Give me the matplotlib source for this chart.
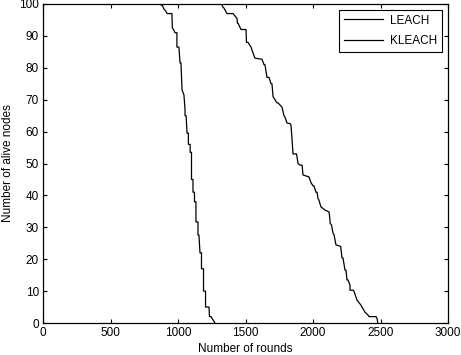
import numpy as np
import matplotlib
matplotlib.use('Agg')
import matplotlib.pyplot as plt

plt.rcParams['font.family'] = ['Liberation Sans', 'DejaVu Sans']

# LEACH: rounds vs alive nodes
leach_rounds = [0, 865, 875, 885, 895, 905, 920, 955, 958, 967, 978, 992, 992, 1007,
                1015, 1022, 1030, 1044, 1052, 1052, 1060, 1067, 1077, 1077, 1090, 1090,
                1100, 1100, 1111, 1111, 1122, 1122, 1133, 1133, 1148, 1148, 1155, 1163,
                1174, 1174, 1189, 1189, 1204, 1204, 1230, 1233, 1245, 1259, 1274]
leach_alive = [100, 100, 99.7, 99.5, 98.5, 98, 97, 97, 92.5, 92, 91, 91, 86.5, 86.5,
               81.5, 81.5, 73, 71.5, 67, 65, 65, 59.5, 59.5, 56, 56, 53.5,
               53.5, 45, 45, 41, 41, 38, 38, 31.7, 31.7, 27.6, 27.6, 22,
               22, 17, 17, 10, 10, 5, 5, 2, 2, 1, 0]

# KLEACH
kleach_rounds = [0, 1323, 1333, 1341, 1356, 1363, 1407, 1437, 1440, 1444, 1467, 1504,
                 1507, 1518, 1541, 1556, 1570, 1622, 1637, 1644, 1659, 1674, 1689, 1696,
                 1704, 1711, 1733, 1741, 1770, 1785, 1793, 1807, 1830, 1837, 1844, 1852,
                 1878, 1889, 1904, 1919, 1926, 1970, 1985, 2000, 2007, 2022, 2030, 2037,
                 2044, 2059, 2089, 2119, 2126, 2126, 2137, 2148, 2156, 2170, 2205, 2215,
                 2222, 2237, 2244, 2252, 2259, 2274, 2274, 2296, 2303, 2326, 2355, 2363,
                 2385, 2407, 2415, 2467, 2474, 2480]
kleach_alive = [100, 100, 99, 98.7, 97.5, 97, 97, 95.5, 94, 94, 92, 92,
                88, 88, 86.5, 84.6, 83, 82.7, 81, 81, 77, 77, 75, 75,
                71, 70.5, 69, 69, 67.7, 65, 64.5, 62.7, 62.5, 62, 58, 53,
                53, 50, 49.5, 49.5, 46.4, 45.8, 44, 43, 43, 41, 41, 39,
                38.5, 36.4, 35.4, 34.8, 32.3, 31.3, 30.7, 28.2, 27.6, 24.5, 24, 20.4,
                20.4, 16.6, 16.6, 13.5, 13.5, 11.9, 10.3, 10.3, 10, 7.2, 5.6, 5,
                3.4, 2.5, 2, 2, 1.5, 0]

xticks = np.arange(0, 3001, 500)
yticks = np.arange(0, 101, 10)

fig = plt.figure(figsize=(4.61, 3.55), dpi=100)
ax = fig.add_axes([43 / 461, 32 / 355, 405 / 461, 319 / 355])

ax.plot(leach_rounds, leach_alive, color='k', linewidth=0.9, label='LEACH')
ax.plot(kleach_rounds, kleach_alive, color='k', linewidth=0.9, label='KLEACH')

ax.set_xlim(0, 3000)
ax.set_ylim(0, 100)
ax.set_xticks(xticks)
ax.set_yticks(yticks)
ax.tick_params(direction='in', top=True, right=True, length=3, width=0.8,
               labelsize=8.5, pad=3)
for s in ax.spines.values():
    s.set_linewidth(0.9)

ax.set_xlabel('Number of rounds', fontsize=8.5, labelpad=2.5)
ax.set_ylabel('Number of alive nodes', fontsize=8.5, labelpad=3.5)

leg = ax.legend(loc='upper right', fontsize=8.5, fancybox=False, framealpha=1,
                edgecolor='k', handlelength=3.3, handletextpad=0.6,
                borderaxespad=0.5, labelspacing=0.75)
leg.get_frame().set_linewidth(0.8)

fig.savefig('out.png', dpi=100)
